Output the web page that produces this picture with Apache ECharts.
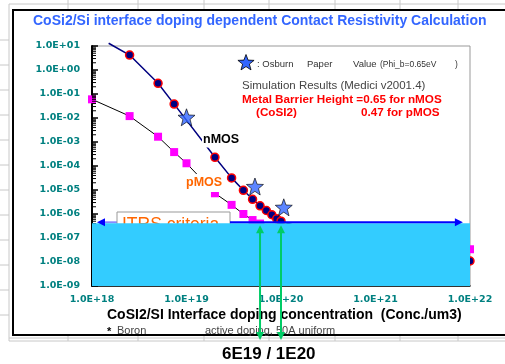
<!DOCTYPE html>
<html>
<head>
<meta charset="utf-8">
<script src="https://cdn.jsdelivr.net/npm/echarts@6/dist/echarts.min.js"></script>
<style>
  html, body { margin: 0; padding: 0; background: #fff; }
  #chart { width: 505px; height: 364px; }
</style>
</head>
<body>
<div id="chart"></div>
<script>
// ---- data ----
const X_TICKS = [1e18, 1e19, 1e20, 1e21, 1e22];
const Y_TICKS = [1e-9, 1e-8, 1e-7, 1e-6, 1e-5, 1e-4, 1e-3, 1e-2, 1e-1, 1e0, 1e1];

// nMOS simulation (Phi_b = 0.65); first point sits just above the axis top
const nmosConc = [1.5e18, 2.5e18, 5e18, 7.4e18, 2e19, 3e19, 4e19, 5e19, 6e19, 7e19, 8e19, 9e19, 1e20, 1e21, 1e22];
const nmosRho  = [13, 4.2, 0.28, 0.038, 2.3e-4, 3.2e-5, 9.7e-6, 4.1e-6, 2.2e-6, 1.4e-6, 9.3e-7, 6.3e-7, 5e-7, 3e-8, 1.1e-8];

// pMOS simulation (Phi_b = 0.47)
const pmosConc = [1e18, 2.5e18, 5e18, 7.4e18, 1e19, 2e19, 3e19, 4e19, 5e19, 6e19, 1e21, 1e22];
const pmosRho  = [0.06, 0.012, 1.66e-3, 3.8e-4, 1.3e-4, 7.3e-6, 2.4e-6, 1.0e-6, 5.6e-7, 4e-7, 6e-8, 3.4e-8];

// Osburn paper values
const osburnConc = [1e19, 5.3e19, 1.07e20];
const osburnRho  = [0.0107, 1.4e-5, 1.9e-6];

// ITRS criteria level, arrow ends, marked concentrations
const itrsRho = 4.1e-7;
const itrsFrom = 1.13e18, itrsTo = 8.4e21;
const markedConc = [6e19, 1e20];

const zip = (a, b) => a.map((v, i) => [v, b[i]]);
const expLabel = v => {
  const e = Math.round(Math.log10(v));
  return '1.0E' + (e >= 0 ? '+' : '-') + String(Math.abs(e)).padStart(2, '0');
};

function starPoints(cx, cy, R) {
  const pts = [];
  for (let i = 0; i < 10; i++) {
    const r = i % 2 ? R * 0.42 : R;
    const a = -Math.PI / 2 + i * Math.PI / 5;
    pts.push([cx + r * Math.cos(a), cy + r * Math.sin(a)]);
  }
  return pts;
}
const STAR = 'path://' + starPoints(50, 50, 50).map((p, i) => (i ? 'L' : 'M') + p[0].toFixed(1) + ' ' + p[1].toFixed(1)).join('') + 'Z';

const TEAL = '#008080';
const tickFont = { color: TEAL, fontFamily: 'DejaVu Sans', fontWeight: 'bold', fontSize: 9.5 };

const chart = echarts.init(document.getElementById('chart'), null, { renderer: 'canvas' });

const nmosData = zip(nmosConc, nmosRho).map((p, i) => i === 0 ? { value: p, symbol: 'none' } : p);

chart.setOption({
  animation: false,
  backgroundColor: '#fff',
  grid: { left: 92, right: 35, top: 46, bottom: 78, show: true, borderColor: '#999', borderWidth: 1, backgroundColor: 'transparent' },
  xAxis: {
    type: 'log', logBase: 10, min: X_TICKS[0], max: X_TICKS[X_TICKS.length - 1], interval: 1,
    axisLine: { lineStyle: { color: '#000', width: 1.5 } },
    axisTick: { show: false },
    splitLine: { show: false },
    axisLabel: Object.assign({ formatter: expLabel, margin: 9 }, tickFont)
  },
  yAxis: {
    type: 'log', logBase: 10, min: Y_TICKS[0], max: Y_TICKS[Y_TICKS.length - 1], interval: 1,
    axisLine: { lineStyle: { color: '#000', width: 2 } },
    axisTick: { show: false },
    splitLine: { show: false },
    axisLabel: Object.assign({ formatter: expLabel, margin: 12 }, tickFont)
  },
  series: [
    {
      name: 'nMOS', type: 'line', data: nmosData, z: 2, clip: false,
      symbol: 'circle', symbolSize: 8,
      lineStyle: { color: '#000080', width: 1.5 },
      itemStyle: { color: '#000080', borderColor: '#ff0000', borderWidth: 1.5 }
    },
    {
      name: 'pMOS', type: 'line', data: zip(pmosConc, pmosRho), z: 2,
      symbol: 'rect', symbolSize: 8,
      lineStyle: { color: '#000', width: 1 },
      itemStyle: { color: '#ff00ff' }
    },
    {
      name: 'Osburn', type: 'scatter', data: zip(osburnConc, osburnRho), z: 2,
      symbol: STAR, symbolSize: 17,
      itemStyle: { color: '#3366ff', borderColor: '#000', borderWidth: 0.8 }
    }
  ]
});

// ---- overlays positioned through the axes ----
const toPx = p => chart.convertToPixel({ xAxisIndex: 0, yAxisIndex: 0 }, p);
const txt = (x, y, text, font, fill, style, z) => ({
  type: 'text', x, y, z: z || 10,
  style: Object.assign({ text, font, fill, verticalAlign: 'middle' }, style || {})
});
const line = (x1, y1, x2, y2, stroke, lineWidth, z) =>
  ({ type: 'line', z: z || 0, shape: { x1, y1, x2, y2 }, style: { stroke, lineWidth } });

const g = [];
// spreadsheet cell lines outside the chart frame
const GRID_C = '#c8c8c8';
g.push(line(9, 4, 505, 4, GRID_C, 1));
g.push(line(9, 4, 9, 341, GRID_C, 1));
g.push(line(9, 338, 505, 338, GRID_C, 1));
g.push(line(9, 341, 505, 341, GRID_C, 1));
[68, 138, 204, 269, 335, 400, 458].forEach(x => {
  g.push(line(x, 0, x, 9, GRID_C, 1));
  g.push(line(x, 336, x, 341, GRID_C, 1));
});
[40, 65, 90, 115, 140, 165, 190, 215, 240, 265, 290, 315].forEach(y => g.push(line(0, y, 9, y, GRID_C, 1)));
// chart frame
g.push({ type: 'rect', z: 1, shape: { x: 13, y: 10, width: 500, height: 325 }, style: { fill: 'none', stroke: '#000', lineWidth: 2 } });

// log ticks on the value axis
const [axX] = toPx([X_TICKS[0], Y_TICKS[0]]);
for (let k = -9; k <= 1; k++) {
  for (let m = 1; m <= 9; m++) {
    const v = m * Math.pow(10, k);
    if (v > Y_TICKS[Y_TICKS.length - 1]) break;
    const [, py] = toPx([X_TICKS[0], v]);
    g.push(line(axX, py, axX + (m === 1 ? 6 : 4), py, '#000', m === 1 ? 1.5 : 1, 3));
  }
}

// ITRS criteria: arrow line (broken by the text box), text box, cyan cover
const [cx0, cy0] = toPx([X_TICKS[0], itrsRho]);
const [cx1, cy1] = toPx([X_TICKS[X_TICKS.length - 1], Y_TICKS[0]]);
const [ax0] = toPx([itrsFrom, itrsRho]);
const [ax1] = toPx([itrsTo, itrsRho]);
const ay = cy0 - 1;
const boxL = 117, boxR = 230;
g.push(line(ax0 + 6, ay, boxL, ay, '#8888ff', 2, 4));
g.push(line(boxR, ay, ax1 - 6, ay, '#0000ff', 2, 7));
g.push({ type: 'polygon', z: 7, shape: { points: [[ax0, ay], [ax0 + 8, ay - 4], [ax0 + 8, ay + 4]] }, style: { fill: '#0000ff' } });
g.push({ type: 'polygon', z: 7, shape: { points: [[ax1, ay], [ax1 - 8, ay - 4], [ax1 - 8, ay + 4]] }, style: { fill: '#0000ff' } });
g.push({ type: 'rect', z: 5, shape: { x: boxL, y: 212, width: boxR - boxL, height: 40 }, style: { fill: '#fff', stroke: '#999', lineWidth: 1 } });
g.push({ type: 'text', z: 5, x: 122, y: 216, style: { text: 'ITRS criteria', font: '17.5px "Liberation Sans"', fill: '#ff6600', verticalAlign: 'top' } });
g.push({ type: 'rect', z: 6, shape: { x: cx0, y: cy0, width: cx1 - cx0, height: cy1 - cy0 }, style: { fill: '#33ccff' } });

// title
g.push(txt(33, 21, 'CoSi2/Si interface doping dependent Contact Resistivity Calculation', 'bold 14px "Liberation Sans"', '#3366ff'));

// legend for stars
g.push({ type: 'polygon', z: 10, shape: { points: starPoints(246, 63, 8.5) }, style: { fill: '#3366ff', stroke: '#000', lineWidth: 0.8 } });
g.push(txt(257, 64, ': Osburn', '9.5px "Liberation Sans"', '#333'));
g.push(txt(307, 64, 'Paper', '9.5px "Liberation Sans"', '#333'));
g.push(txt(353, 64, 'Value', '9.5px "Liberation Sans"', '#333'));
g.push(txt(380, 65, '(Phi_b=0.65eV', '8.5px "Liberation Sans"', '#333'));
g.push(txt(455, 65, ')', '8.5px "Liberation Sans"', '#333'));

g.push(txt(242, 86, 'Simulation Results (Medici v2001.4)', '11.5px "Liberation Sans"', '#444'));
g.push(txt(242, 100, 'Metal Barrier Height =0.65 for nMOS', 'bold 11.7px "Liberation Sans"', '#ff0000'));
g.push(txt(256, 113, '(CoSI2)', 'bold 11.7px "Liberation Sans"', '#ff0000'));
g.push(txt(361, 113, '0.47 for pMOS', 'bold 11.7px "Liberation Sans"', '#ff0000'));

// series labels
g.push(txt(202, 140, 'nMOS', 'bold 12.5px "Liberation Sans"', '#000', { backgroundColor: '#fff', padding: [1, 1, 1, 1] }));
g.push(txt(185, 183, 'pMOS', 'bold 12.5px "Liberation Sans"', '#ff6600', { backgroundColor: '#fff', padding: [1, 1, 4, 1] }));

// axis caption and notes
g.push(txt(107, 315, 'CoSI2/SI Interface doping concentration  (Conc./um3)', 'bold 14px "Liberation Sans"', '#000'));
g.push(txt(107, 332, '*', 'bold 11px "Liberation Sans"', '#000'));
g.push(txt(117, 331, 'Boron', '11px "Liberation Sans"', '#444'));
g.push(txt(205, 331, 'active doping, 50A uniform', '11px "Liberation Sans"', '#444'));
g.push(txt(222, 354, '6E19 / 1E20', 'bold 17px "Liberation Sans"', '#000'));

// green double arrows from the criteria line down to the caption
markedConc.forEach(c => {
  const [px, py] = toPx([c, itrsRho]);
  const top = py + 2, bot = 340;
  g.push(line(px, top + 6, px, bot - 6, '#00cc66', 2, 20));
  g.push({ type: 'polygon', z: 20, shape: { points: [[px, top], [px - 4, top + 8], [px + 4, top + 8]] }, style: { fill: '#00cc66' } });
  g.push({ type: 'polygon', z: 20, shape: { points: [[px, bot], [px - 4, bot - 8], [px + 4, bot - 8]] }, style: { fill: '#00cc66' } });
});

chart.setOption({ graphic: { elements: g } });
</script>
</body>
</html>
